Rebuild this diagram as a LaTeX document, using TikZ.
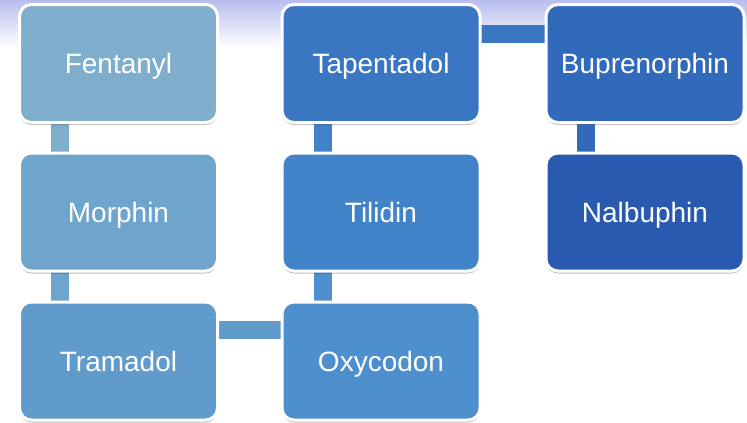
\documentclass[tikz,border=0pt]{standalone}
\usepackage{fontspec}
\setmainfont{Liberation Sans}
\usetikzlibrary{shadows,backgrounds}
\definecolor{cFen}{RGB}{127,174,205}
\definecolor{cMor}{RGB}{111,165,204}
\definecolor{cTra}{RGB}{96,155,204}
\definecolor{cOxy}{RGB}{78,143,205}
\definecolor{cTil}{RGB}{64,131,201}
\definecolor{cTap}{RGB}{58,118,193}
\definecolor{cBup}{RGB}{50,106,187}
\definecolor{cNal}{RGB}{42,90,176}
\definecolor{bgT}{RGB}{184,189,238}
\tikzset{
  drug/.style={draw=white, line width=3pt, rounded corners=12pt,
    minimum width=198pt, minimum height=118pt, inner sep=0pt,
    text=white, font=\fontsize{28}{32}\selectfont,
    text height=20pt, text depth=0pt,
    drop shadow={shadow xshift=0pt, shadow yshift=-2.5pt, opacity=0.25, fill=black}},
  link/.style={line width=18pt, line cap=butt}
}
\begin{document}
\begin{tikzpicture}[x=1pt,y=-1pt]
\useasboundingbox (0,0) rectangle (747,423);
\node[drug, fill=cFen] (fen) at (118.5,63.5) {Fentanyl};
\node[drug, fill=cMor] (mor) at (118.5,212) {Morphin};
\node[drug, fill=cTra] (tra) at (118.5,361) {Tramadol};
\node[drug, fill=cOxy] (oxy) at (381,361) {Oxycodon};
\node[drug, fill=cTil] (til) at (381,212) {Tilidin};
\node[drug, fill=cTap] (tap) at (381,63.5) {Tapentadol};
\node[drug, fill=cBup] (bup) at (645,63.5) {Buprenorphin};
\node[drug, fill=cNal] (nal) at (645,212) {Nalbuphin};
\begin{scope}[on background layer]
\fill[white] (0,0) rectangle (747,423);
\fill[top color=bgT, bottom color=white] (0,0) rectangle (747,48);
\draw[link, cFen] ([xshift=-58.5pt]fen.center) -- ([xshift=-58.5pt]mor.center);
\draw[link, cMor] ([xshift=-58.5pt]mor.center) -- ([xshift=-58.5pt]tra.center);
\draw[link, cTra] ([yshift=31pt]tra.center) -- ([yshift=31pt]oxy.center);
\draw[link, cOxy] ([xshift=-58.5pt]oxy.center) -- ([xshift=-58.5pt]til.center);
\draw[link, cTil] ([xshift=-58.5pt]til.center) -- ([xshift=-58.5pt]tap.center);
\draw[link, cTap] ([yshift=29.5pt]tap.center) -- ([yshift=29.5pt]bup.center);
\draw[link, cBup] ([xshift=-59pt]bup.center) -- ([xshift=-59pt]nal.center);
\end{scope}
\end{tikzpicture}
\end{document}
